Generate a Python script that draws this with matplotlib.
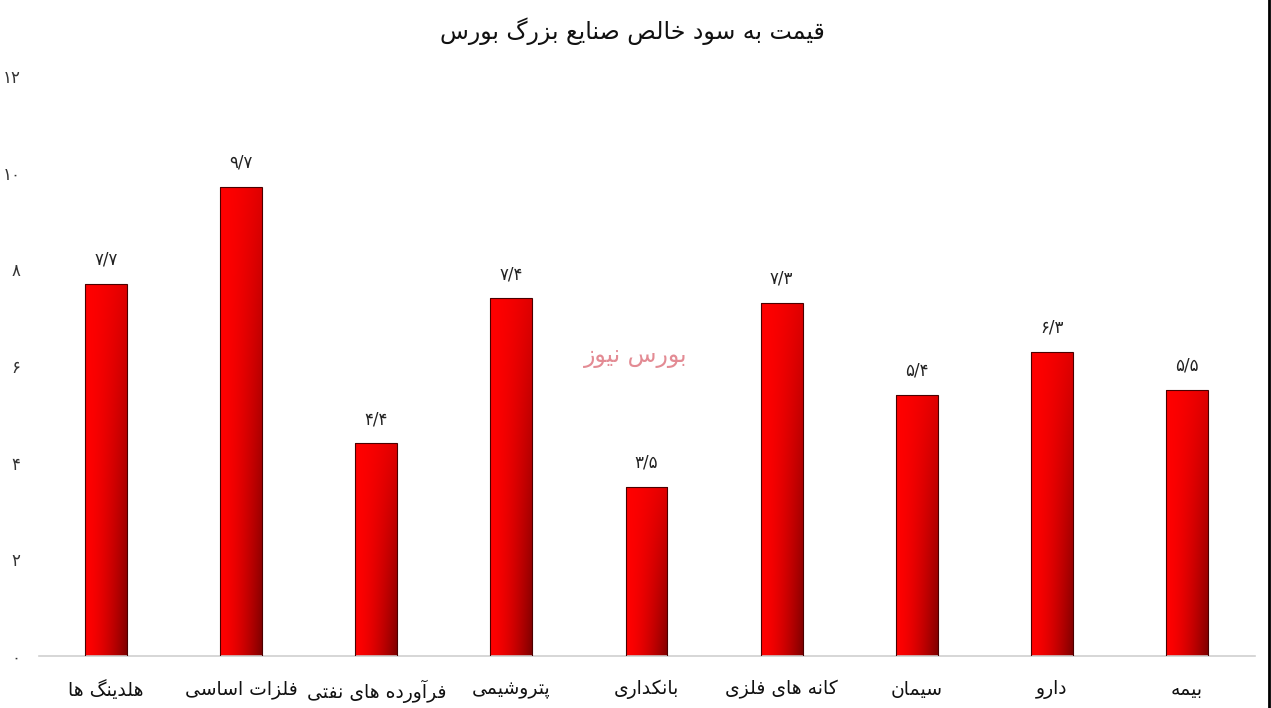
import numpy as np
import matplotlib
matplotlib.use("Agg")
import matplotlib.pyplot as plt
from matplotlib.lines import Line2D

# data
title = "قیمت به سود خالص صنایع بزرگ بورس"
categories = ["هلدینگ ها", "فلزات اساسی", "فرآورده های نفتی", "پتروشیمی", "بانکداری",
              "کانه های فلزی", "سیمان", "دارو", "بیمه"]
values = [7.7, 9.7, 4.4, 7.4, 3.5, 7.3, 5.4, 6.3, 5.5]
yticks = [0, 2, 4, 6, 8, 10, 12]
watermark = "بورس نیوز"

# simple persian shaping (isolated, final, initial, medial)
FORMS = {
    "ا": (0xFE8D, 0xFE8E, None, None), "آ": (0xFE81, 0xFE82, None, None),
    "د": (0xFEA9, 0xFEAA, None, None), "ر": (0xFEAD, 0xFEAE, None, None),
    "ز": (0xFEAF, 0xFEB0, None, None), "و": (0xFEED, 0xFEEE, None, None),
    "ب": (0xFE8F, 0xFE90, 0xFE91, 0xFE92), "ت": (0xFE95, 0xFE96, 0xFE97, 0xFE98),
    "خ": (0xFEA5, 0xFEA6, 0xFEA7, 0xFEA8), "س": (0xFEB1, 0xFEB2, 0xFEB3, 0xFEB4),
    "ش": (0xFEB5, 0xFEB6, 0xFEB7, 0xFEB8), "ص": (0xFEB9, 0xFEBA, 0xFEBB, 0xFEBC),
    "ع": (0xFEC9, 0xFECA, 0xFECB, 0xFECC), "ف": (0xFED1, 0xFED2, 0xFED3, 0xFED4),
    "ق": (0xFED5, 0xFED6, 0xFED7, 0xFED8), "ل": (0xFEDD, 0xFEDE, 0xFEDF, 0xFEE0),
    "م": (0xFEE1, 0xFEE2, 0xFEE3, 0xFEE4), "ن": (0xFEE5, 0xFEE6, 0xFEE7, 0xFEE8),
    "ه": (0xFEE9, 0xFEEA, 0xFEEB, 0xFEEC), "پ": (0xFB56, 0xFB57, 0xFB58, 0xFB59),
    "گ": (0xFB92, 0xFB93, 0xFB94, 0xFB95), "ک": (0xFB8E, 0xFB8F, 0xFB90, 0xFB91),
    "ی": (0xFBFC, 0xFBFD, 0xFBFE, 0xFBFF),
}


def fa(s):
    out = []
    for i, c in enumerate(s):
        if c not in FORMS:
            out.append(c)
            continue
        prev = s[i - 1] if i > 0 else ""
        nxt = s[i + 1] if i < len(s) - 1 else ""
        jp = prev in FORMS and FORMS[prev][2] is not None
        jn = FORMS[c][2] is not None and nxt in FORMS
        f = FORMS[c]
        if jp and jn:
            out.append(chr(f[3]))
        elif jp:
            out.append(chr(f[1]))
        elif jn:
            out.append(chr(f[2]))
        else:
            out.append(chr(f[0]))
    return "".join(out)[::-1]


def fa_num(v, fmt="{:g}"):
    s = fmt.format(v).replace(".", "/")
    return s.translate(str.maketrans("0123456789", "۰۱۲۳۴۵۶۷۸۹"))


plt.rcParams["font.family"] = ["DejaVu Sans"]

fig = plt.figure(figsize=(12.71, 7.08), dpi=100)
ax = fig.add_axes([38.5 / 1271, 52 / 708, 1216 / 1271, 580 / 708])

x = np.arange(len(categories))
bars = ax.bar(x, values, width=0.31, facecolor="none", edgecolor="#4a0000", linewidth=0.8, zorder=3)

# red gradient, darker towards the lower right of each bar
gx, gy = np.meshgrid(np.linspace(0, 1, 60), np.linspace(0, 1, 200))
shade = 1 - 0.5 * gx ** 1.6 * (0.25 + 0.75 * (1 - gy))
grad = np.zeros((200, 60, 3))
grad[..., 0] = shade
for b in bars:
    im = ax.imshow(grad, extent=[b.get_x(), b.get_x() + b.get_width(), 0, b.get_height()],
                   origin="lower", aspect="auto", zorder=2, interpolation="bilinear")
    im.set_clip_path(b)

for xi, v in zip(x, values):
    ax.annotate(fa_num(v), (xi, v), xytext=(0, 11), textcoords="offset points",
                ha="center", va="bottom", fontsize=12, color="#222222")

ax.set_xlim(-0.5, len(categories) - 0.5)
ax.set_ylim(0, 12)
ax.set_xticks(x)
ax.set_xticklabels([fa(c) for c in categories], fontsize=13.5, color="#111111")
ax.set_yticks(yticks)
ax.set_yticklabels([fa_num(t) for t in yticks], fontsize=12, color="#333333")
ax.tick_params(axis="both", length=0)
ax.tick_params(axis="x", pad=17)
ax.tick_params(axis="y", pad=13)
for side in ["top", "right", "left"]:
    ax.spines[side].set_visible(False)
ax.spines["bottom"].set_color("#d0d0d0")
ax.spines["bottom"].set_linewidth(1.2)

fig.text(632 / 1271, 1 - 31 / 708, fa(title), ha="center", va="center", fontsize=17, color="#111111")
ax.text(3.92, 6.2, fa(watermark), ha="center", va="center", fontsize=17, color="#e07f88",
        alpha=0.9, zorder=4)

fig.add_artist(Line2D([1269 / 1271, 1269 / 1271], [0, 1], transform=fig.transFigure,
                      color="black", linewidth=2))

fig.savefig("out.png", dpi=100, facecolor="white")
